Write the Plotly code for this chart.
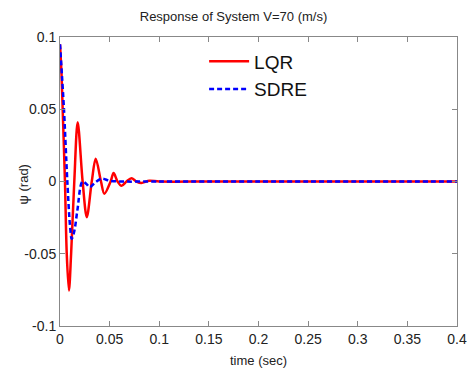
import plotly.graph_objects as go

# Data
lqr_t = [0, 0.0015, 0.0027, 0.005, 0.0068, 0.009, 0.0112, 0.0144, 0.0178, 0.0228, 0.027,
         0.032, 0.036, 0.0413, 0.0447, 0.051, 0.054, 0.058, 0.062, 0.067, 0.072, 0.077,
         0.082, 0.09, 0.1, 0.15, 0.2, 0.25, 0.3, 0.35, 0.4]
lqr_psi = [0.095, 0.075, 0.05, 0.0, -0.05, -0.0754, -0.05, 0.0, 0.041, 0.0, -0.0247,
           0.0, 0.0157, 0.0, -0.0085, 0.0, 0.0058, 0.0, -0.003, 0.0, 0.0023, 0.0,
           -0.001, 0.0005, 0.0, 0.0, 0.0, 0.0, 0.0, 0.0, 0.0]

sdre_t = [0, 0.002, 0.004, 0.0074, 0.010, 0.0118, 0.0145, 0.0175, 0.0226, 0.027, 0.030,
          0.035, 0.042, 0.05, 0.06, 0.1, 0.15, 0.2, 0.25, 0.3, 0.35, 0.4]
sdre_psi = [0.095, 0.073, 0.05, 0.0, -0.03, -0.0397, -0.034, -0.02, 0.0, -0.002, -0.004,
            -0.001, 0.002, 0.0005, 0.0, 0.0, 0.0, 0.0, 0.0, 0.0, 0.0, 0.0]

x_ticks = [0, 0.05, 0.1, 0.15, 0.2, 0.25, 0.3, 0.35, 0.4]
x_tick_labels = ["0", "0.05", "0.1", "0.15", "0.2", "0.25", "0.3", "0.35", "0.4"]
y_ticks = [-0.1, -0.05, 0, 0.05, 0.1]
y_tick_labels = ["-0.1", "-0.05", "0", "0.05", "0.1"]

FONT = "Liberation Sans, Arial"

fig = go.Figure()
fig.add_trace(go.Scatter(x=lqr_t, y=lqr_psi, mode="lines", name="LQR",
                         line=dict(color="#ff0000", width=2.5, shape="spline", smoothing=0.9),
                         legendgroup="a"))
fig.add_trace(go.Scatter(x=sdre_t, y=sdre_psi, mode="lines", name="SDRE",
                         line=dict(color="#0000ff", width=2.5, dash="5px,3px", shape="spline", smoothing=0.9),
                         legendgroup="b"))

axis_common = dict(showline=True, linecolor="#888888", linewidth=1, mirror="ticks",
                   ticks="inside", ticklen=5, tickcolor="#888888", showgrid=False,
                   zeroline=False, automargin=False,
                   tickfont=dict(family=FONT, size=14, color="#222"))

fig.update_xaxes(range=[0, 0.4], tickvals=x_ticks, ticktext=x_tick_labels,
                 ticklabeloverflow="allow",
                 title=dict(text="time (sec)", font=dict(family=FONT, size=13, color="#222"),
                            standoff=10),
                 **axis_common)
fig.update_yaxes(range=[-0.1, 0.1], tickvals=y_ticks, ticktext=y_tick_labels,
                 **axis_common)

fig.add_annotation(text="ψ (rad)", xref="paper", yref="paper", x=(23 - 60) / 397, y=0.49,
                   xanchor="center", yanchor="middle", textangle=-90, showarrow=False,
                   font=dict(family=FONT, size=13, color="#222"))

fig.update_layout(
    width=467, height=371,
    margin=dict(l=60, r=10, t=37, b=45),
    paper_bgcolor="white", plot_bgcolor="white",
    title=dict(text="Response of System V=70 (m/s)", x=0.5, xanchor="center", y=0.955, yanchor="middle",
               font=dict(family=FONT, size=13, color="#222")),
    legend=dict(x=0.363, y=0.981, xanchor="left", yanchor="top", bgcolor="rgba(0,0,0,0)",
                font=dict(family=FONT, size=19, color="#111"),
                tracegroupgap=0, itemwidth=40),
)

fig.write_html("out.html", config={"displayModeBar": False},
               post_script="document.body.style.margin='0';document.body.style.overflow='hidden';")
